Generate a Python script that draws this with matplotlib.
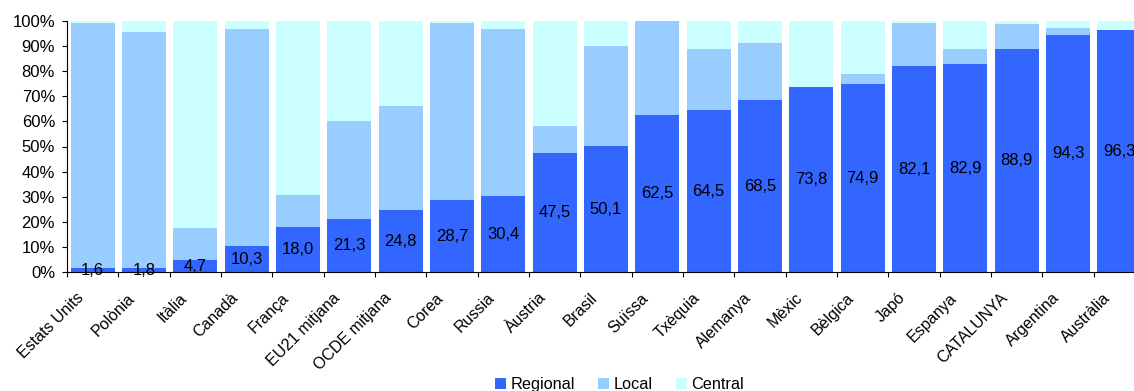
import matplotlib
matplotlib.use("Agg")
import matplotlib.pyplot as plt
from matplotlib.transforms import ScaledTranslation
import numpy as np

plt.rcParams['font.family'] = ['Liberation Sans', 'DejaVu Sans']

categories = ["Estats Units", "Polònia", "Itàlia", "Canadà", "França", "EU21 mitjana",
              "OCDE mitjana", "Corea", "Russia", "Àustria", "Brasil", "Suïssa", "Txèquia",
              "Alemanya", "Mèxic", "Bèlgica", "Japó", "Espanya", "CATALUNYA", "Argentina",
              "Austràlia"]
regional = [1.6, 1.8, 4.7, 10.3, 18.0, 21.3, 24.8, 28.7, 30.4, 47.5, 50.1, 62.5, 64.5,
            68.5, 73.8, 74.9, 82.1, 82.9, 88.9, 94.3, 96.3]
local = [97.6, 93.7, 12.9, 86.4, 12.7, 38.8, 41.3, 70.5, 66.3, 10.6, 39.8, 37.5, 24.2,
         22.6, 0.0, 3.9, 17.0, 5.8, 9.8, 2.8, 0.0]
central = [0.8, 4.5, 82.4, 3.3, 69.3, 39.9, 33.9, 0.8, 3.3, 41.9, 10.1, 0.0, 11.3,
           8.9, 26.2, 21.2, 0.9, 11.3, 1.3, 2.9, 3.7]
series_names = ["Regional", "Local", "Central"]
colors = ["#3366FF", "#99CCFF", "#CCFFFF"]

W, H = 1134, 391
fig = plt.figure(figsize=(W / 100, H / 100), dpi=100)
x0, x1 = 67, 1145
y0, y1 = 272.3, 20.7
ax = fig.add_axes([x0 / W, (H - y0) / H, (x1 - x0) / W, (y0 - y1) / H])

x = np.arange(len(categories))
bw = 0.857
reg = np.array(regional)
loc_ = np.array(local)
cen = np.array(central)
ax.bar(x, reg, bw, color=colors[0], label=series_names[0], linewidth=0)
ax.bar(x, loc_, bw, bottom=reg, color=colors[1], label=series_names[1], linewidth=0)
ax.bar(x, cen, bw, bottom=reg + loc_, color=colors[2], label=series_names[2], linewidth=0)

for xi, v in zip(x, regional):
    ax.text(xi, v / 2, f"{v:.1f}".replace(".", ","), ha="center", va="center",
            fontsize=12, color="black", clip_on=False, zorder=2)

ax.set_xlim(-0.5, len(categories) - 0.5)
ax.set_ylim(0, 100)
ax.set_yticks(np.arange(0, 101, 10))
ax.set_yticklabels([f"{v}%" for v in range(0, 101, 10)], fontsize=12)
ax.set_xticks(x)
ax.set_xticklabels(categories, rotation=45, ha="right", va="top", fontsize=11.5)
ax.set_xticks(np.arange(len(categories) + 1) - 0.5, minor=True)
ax.tick_params(axis="x", which="major", length=0, pad=13)
ax.tick_params(axis="x", which="minor", length=3.6, width=0.8, direction="out", color="black")
ax.tick_params(axis="y", which="major", length=3.6, width=0.8, direction="out", pad=5, color="black")

off = ScaledTranslation(-6 / 100, 0, fig.dpi_scale_trans)
for lab in ax.get_xticklabels():
    lab.set_transform(lab.get_transform() + off)

for s in ["top", "right"]:
    ax.spines[s].set_visible(False)
for s in ["left", "bottom"]:
    ax.spines[s].set_color("black")
    ax.spines[s].set_linewidth(0.8)

leg = fig.legend(loc="center", bbox_to_anchor=(619.5 / W, 1 - 384.5 / H),
                 ncol=3, frameon=False, fontsize=11.7, handlelength=0.68,
                 handleheight=0.68, handletextpad=0.3, columnspacing=1.4, borderpad=0,
                 borderaxespad=0)

fig.savefig("out.png", dpi=100)
